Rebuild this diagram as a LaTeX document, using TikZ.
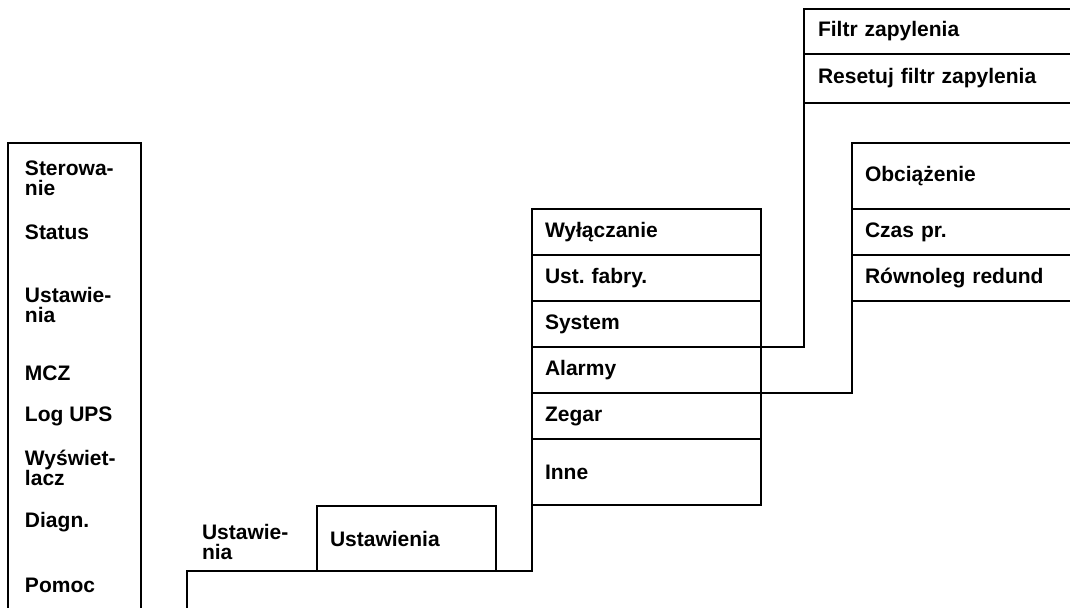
\documentclass[tikz,border=0pt]{standalone}
\usepackage{fontspec}
\setmainfont{Liberation Sans}
\usetikzlibrary{positioning}
\frenchspacing

\begin{document}
\begin{tikzpicture}[x=0.5pt, y=-0.5pt, line width=1pt, node distance=0pt]

\tikzset{
  menutext/.style={
    anchor=west, inner sep=0pt, align=left,
    font=\bfseries\fontsize{10.5}{10}\selectfont
  },
  row/.style={
    rectangle, draw, outer sep=0pt,
    inner xsep=6.5pt, inner ysep=0pt,
    minimum height=23pt, align=left,
    font=\bfseries\fontsize{10.5}{10}\selectfont
  },
  colrow/.style={row, text width=101.5pt},
  filtrrow/.style={row, inner xsep=7pt, text width=126.5pt},
  loadrow/.style={row, text width=103.5pt}
}

\useasboundingbox (0,0) rectangle (1070,607);

% ==========================
% Main menu (left)
% ==========================
\coordinate (menuBL) at (8,615);
\coordinate (menuTR) at (141,143);
\draw (menuBL) |- (menuTR) -- (menuTR |- menuBL);

\node[menutext] (m1) at (24,178.5) {Sterowa-\\nie};
\node[menutext] (m2) at (24,232) {Status};
\node[menutext] (m3) at (24,305) {Ustawie-\\nia};
\node[menutext] (m4) at (24,373) {MCZ};
\node[menutext] (m5) at (24,416) {Log UPS};
\node[menutext] (m6) at (24,467.5) {Wyświet-\\lacz};
\node[menutext] (m7) at (24,522) {Diagn.};
\node[menutext] (m8) at (24,585) {Pomoc};

% ==========================
% Settings level
% ==========================
\node[menutext] (sub) at (201,542) {Ustawie-\\nia};
\node[row, text width=76.5pt, minimum height=32.5pt, anchor=south west] (ust) at (317,571) {Ustawienia};

% ==========================
% Settings submenu (column)
% ==========================
\node[colrow, anchor=north west] (wyl) at (532,209) {Wyłączanie};
\node[colrow, below=of wyl] (ustfab) {Ust. fabry.};
\node[colrow, below=of ustfab] (system) {System};
\node[colrow, below=of system] (alarmy) {Alarmy};
\node[colrow, below=of alarmy] (zegar) {Zegar};
\node[colrow, below=of zegar, minimum height=33pt] (inne) {Inne};

% ==========================
% System / Alarmy submenus (right)
% ==========================
\node[filtrrow, anchor=north west, minimum height=22.5pt] (filtr) at (804,9) {Filtr zapylenia};
\node[filtrrow, below=of filtr, minimum height=24.5pt] (reset) {Resetuj filtr zapylenia};

\node[loadrow, anchor=north west, minimum height=33pt] (obc) at (852,143) {Obciążenie};
\node[loadrow, below=of obc] (czas) {Czas pr.};
\node[loadrow, below=of czas] (rown) {Równoleg redund};

% Connectors
\coordinate (root) at (187,615);
\draw (root) |- (ust.south) -| (inne.south west);
\draw (system.south east) -| (reset.south west);
\draw (alarmy.south east) -| (rown.south west);

\end{tikzpicture}
\end{document}
